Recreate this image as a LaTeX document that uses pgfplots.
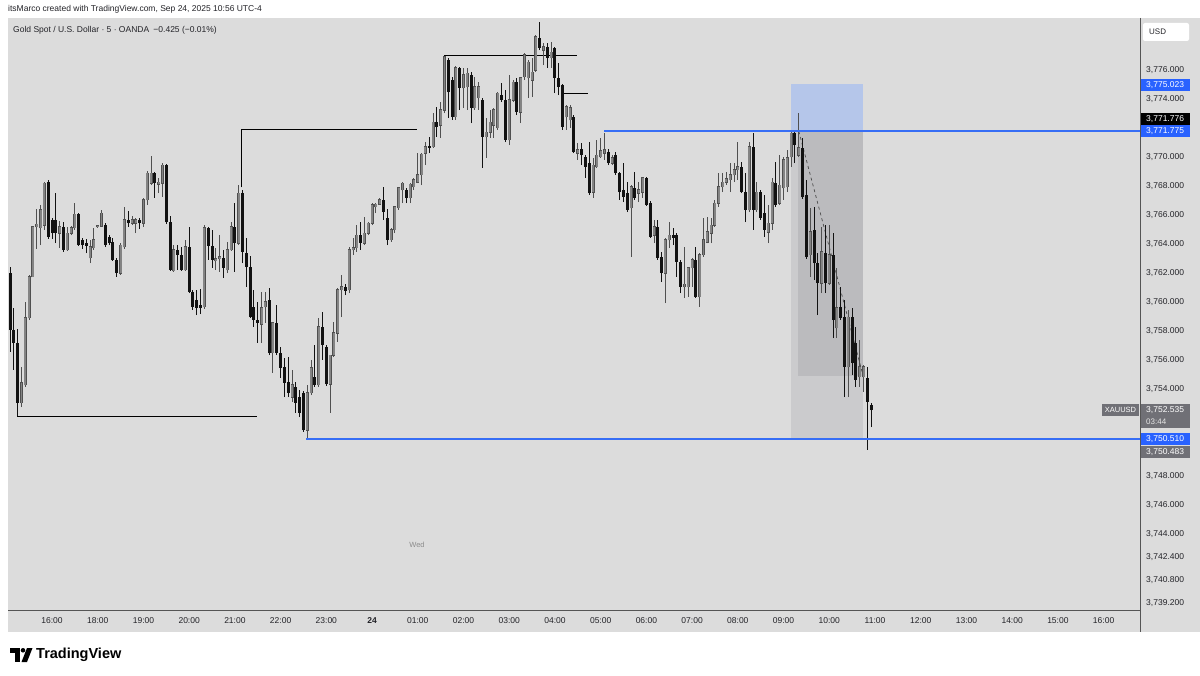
\documentclass[border=0pt]{standalone}
\usepackage{pgfplots}
\pgfplotsset{compat=1.18}
\usepackage{pgfplotstable}
\usepackage{fontspec}
\setmainfont{Liberation Sans}
\definecolor{bg}{RGB}{220,220,220}
\definecolor{upc}{RGB}{132,132,132}
\definecolor{upedge}{RGB}{80,80,80}
\definecolor{dnc}{RGB}{18,18,18}
\definecolor{tvblue}{RGB}{41,98,255}
\definecolor{lineblue}{RGB}{55,110,245}
\definecolor{boxblue}{RGB}{181,198,234}
\definecolor{boxgray}{RGB}{203,203,205}
\definecolor{boxdark}{RGB}{187,187,190}
\definecolor{taggray}{RGB}{112,112,118}
\definecolor{txt}{RGB}{35,35,40}
\definecolor{sepc}{RGB}{85,85,85}

\pgfplotstableread{
i O H L C
-11 3761.99 3762.41 3756.54 3758.06
-10 3758.06 3759.58 3755.30 3757.16
-9 3757.16 3758.13 3752.12 3753.02
-8 3753.02 3755.51 3752.74 3754.40
-7 3754.27 3759.99 3754.13 3758.89
-6 3758.89 3761.86 3758.75 3761.72
-5 3761.72 3765.23 3761.72 3765.17
-4 3765.17 3766.41 3763.65 3765.37
-3 3765.10 3766.69 3763.92 3766.34
-2 3765.30 3768.27 3764.96 3768.20
-1 3768.27 3768.41 3764.34 3764.48
0 3765.65 3765.79 3764.34 3764.75
1 3765.65 3767.51 3764.06 3764.75
2 3764.75 3765.58 3763.72 3765.17
3 3765.17 3765.51 3763.44 3763.58
4 3763.58 3765.17 3763.51 3764.75
5 3764.75 3765.23 3764.61 3765.10
6 3765.10 3766.82 3764.96 3766.06
7 3766.06 3766.13 3763.86 3763.92
8 3764.27 3764.41 3763.65 3763.92
9 3764.06 3764.34 3763.37 3763.86
10 3763.03 3764.27 3762.68 3763.79
11 3763.72 3765.10 3763.58 3764.27
12 3765.17 3765.30 3765.10 3765.23
13 3765.23 3766.34 3765.17 3766.13
14 3765.30 3765.44 3763.79 3763.92
15 3764.48 3764.61 3763.92 3764.06
16 3764.13 3764.41 3762.82 3762.89
17 3762.89 3763.03 3761.72 3761.99
18 3761.99 3764.06 3761.86 3763.92
19 3763.79 3766.55 3763.65 3765.65
20 3765.65 3766.27 3765.17 3765.44
21 3765.44 3765.93 3765.30 3765.65
22 3765.44 3765.79 3764.75 3765.65
23 3765.65 3765.79 3765.03 3765.44
24 3765.44 3767.17 3765.17 3767.03
25 3767.03 3769.03 3766.69 3768.89
26 3768.20 3770.07 3768.06 3768.89
27 3768.89 3768.96 3767.17 3768.20
28 3768.13 3768.55 3767.51 3768.27
29 3768.20 3769.58 3767.24 3769.44
30 3769.44 3769.51 3765.37 3765.51
31 3765.51 3765.93 3762.13 3762.20
32 3762.13 3763.92 3762.06 3763.58
33 3763.58 3763.92 3762.20 3763.24
34 3763.24 3763.79 3762.13 3762.20
35 3762.20 3764.27 3762.13 3763.79
36 3763.79 3765.17 3760.61 3760.68
37 3760.68 3760.82 3759.44 3759.65
38 3760.13 3760.82 3759.09 3759.58
39 3759.79 3760.89 3759.16 3759.58
40 3759.65 3765.30 3759.51 3765.10
41 3765.10 3765.17 3762.89 3763.86
42 3763.86 3764.96 3762.34 3762.89
43 3762.82 3763.72 3762.20 3762.96
44 3762.96 3764.61 3762.06 3763.10
45 3763.03 3763.58 3761.65 3762.34
46 3762.20 3764.13 3761.99 3763.58
47 3763.58 3765.51 3763.51 3765.17
48 3765.17 3766.82 3762.06 3764.06
49 3764.06 3768.06 3763.92 3767.51
50 3767.51 3767.72 3762.68 3763.44
51 3763.37 3764.41 3761.03 3762.41
52 3762.41 3763.17 3758.89 3758.95
53 3759.65 3760.82 3758.27 3758.75
54 3758.75 3759.99 3757.16 3758.54
55 3758.47 3760.68 3757.16 3759.58
56 3759.65 3760.68 3758.54 3759.99
57 3760.13 3760.96 3756.33 3756.47
58 3756.47 3758.54 3755.09 3758.54
59 3758.54 3759.79 3756.33 3756.47
60 3756.47 3756.89 3754.75 3755.44
61 3755.51 3756.13 3753.43 3754.40
62 3754.47 3756.19 3753.43 3753.71
63 3753.43 3755.30 3753.09 3754.27
64 3754.13 3754.47 3752.33 3753.02
65 3753.43 3753.92 3752.05 3752.33
66 3753.71 3753.85 3751.02 3751.15
67 3751.15 3754.27 3750.53 3753.71
68 3753.71 3755.99 3753.57 3755.44
69 3754.82 3757.02 3754.13 3754.27
70 3754.27 3758.89 3754.13 3758.27
71 3758.27 3759.30 3755.99 3757.02
72 3756.89 3757.02 3754.20 3754.33
73 3754.33 3756.33 3752.33 3756.33
74 3756.33 3758.61 3756.19 3757.85
75 3757.85 3760.96 3757.23 3760.82
76 3760.82 3761.86 3758.95 3761.03
77 3761.03 3761.23 3760.47 3760.75
78 3760.82 3763.79 3760.61 3763.58
79 3763.58 3764.41 3763.24 3763.72
80 3763.72 3765.30 3763.44 3764.61
81 3764.61 3765.51 3763.58 3764.06
82 3764.06 3765.86 3763.92 3764.75
83 3764.75 3765.51 3764.61 3765.44
84 3765.44 3766.82 3765.30 3766.69
85 3766.55 3766.82 3766.13 3766.75
86 3766.75 3767.17 3766.69 3767.03
87 3767.03 3767.93 3765.65 3766.20
88 3765.79 3766.41 3763.92 3764.27
89 3764.27 3765.10 3764.13 3764.96
90 3764.96 3766.55 3764.75 3766.55
91 3766.48 3767.93 3766.34 3767.86
92 3767.72 3768.27 3766.82 3768.20
93 3767.72 3767.86 3766.82 3767.17
94 3767.17 3768.20 3766.82 3768.13
95 3767.93 3768.55 3767.72 3768.41
96 3768.27 3770.27 3768.20 3768.76
97 3768.76 3770.27 3768.06 3770.20
98 3770.27 3771.03 3769.44 3770.69
99 3770.75 3771.38 3770.27 3770.62
100 3770.69 3773.03 3770.62 3772.41
101 3772.41 3773.45 3771.38 3772.07
102 3772.20 3773.79 3771.31 3773.24
103 3773.24 3776.97 3773.03 3776.90
104 3776.69 3776.83 3772.69 3774.48
105 3775.31 3775.52 3772.55 3772.76
106 3772.76 3776.28 3772.55 3776.14
107 3776.14 3776.21 3773.24 3774.76
108 3774.76 3776.14 3773.38 3775.66
109 3774.83 3776.14 3773.24 3775.79
110 3775.66 3775.86 3772.34 3773.38
111 3773.38 3775.52 3773.24 3774.83
112 3774.07 3775.17 3773.24 3774.83
113 3773.93 3774.07 3769.24 3771.38
114 3771.38 3772.69 3769.93 3771.72
115 3771.72 3773.24 3771.31 3772.41
116 3772.20 3773.38 3771.31 3773.24
117 3772.00 3774.48 3771.86 3774.41
118 3774.27 3775.10 3773.79 3773.93
119 3773.93 3774.62 3771.03 3771.17
120 3771.17 3775.66 3770.82 3773.93
121 3773.93 3775.31 3773.79 3775.17
122 3775.17 3775.45 3772.89 3773.10
123 3773.10 3775.52 3772.34 3775.45
124 3775.52 3777.17 3775.31 3777.04
125 3775.45 3776.69 3774.07 3776.55
126 3775.31 3776.83 3774.14 3775.86
127 3776.00 3778.41 3775.86 3778.28
128 3778.21 3779.31 3777.38 3777.52
129 3777.38 3777.86 3776.34 3777.59
130 3777.59 3777.86 3776.14 3776.83
131 3776.83 3777.93 3776.14 3777.24
132 3777.52 3777.59 3774.41 3775.45
133 3775.45 3776.48 3774.27 3774.83
134 3774.97 3775.03 3771.86 3772.07
135 3772.76 3773.58 3771.86 3773.45
136 3772.55 3773.58 3772.00 3773.38
137 3772.76 3772.89 3770.27 3770.34
138 3770.27 3770.96 3769.79 3770.48
139 3770.55 3770.96 3769.44 3770.13
140 3770.00 3770.13 3768.55 3769.31
141 3769.58 3771.03 3767.38 3767.51
142 3767.58 3769.93 3767.17 3769.44
143 3769.31 3771.17 3769.24 3770.13
144 3770.00 3771.31 3769.93 3770.41
145 3770.27 3771.65 3769.79 3770.48
146 3770.34 3770.55 3769.44 3769.58
147 3769.58 3770.13 3769.44 3769.93
148 3770.13 3770.34 3768.76 3768.89
149 3768.89 3768.96 3767.03 3767.58
150 3767.72 3769.58 3766.89 3767.24
151 3767.51 3768.27 3766.20 3766.34
152 3766.48 3768.06 3763.10 3767.93
153 3767.86 3768.96 3767.03 3767.17
154 3767.51 3768.27 3766.89 3767.72
155 3767.58 3768.62 3767.17 3768.55
156 3768.55 3768.62 3766.62 3766.69
157 3766.82 3766.96 3764.41 3764.48
158 3764.61 3765.65 3764.06 3765.17
159 3765.17 3765.65 3762.89 3763.03
160 3763.10 3763.44 3761.37 3761.99
161 3761.99 3764.41 3759.92 3764.27
162 3764.27 3765.51 3763.72 3764.61
163 3764.61 3765.10 3763.92 3764.41
164 3764.61 3764.75 3761.72 3762.75
165 3762.75 3762.89 3760.61 3761.03
166 3761.03 3763.79 3760.27 3761.23
167 3761.03 3762.41 3760.34 3762.34
168 3762.34 3763.03 3761.03 3762.89
169 3762.89 3763.79 3760.27 3760.34
170 3760.34 3763.37 3759.65 3763.24
171 3763.24 3765.79 3763.10 3764.27
172 3764.13 3765.86 3764.06 3764.82
173 3764.75 3765.79 3764.06 3765.30
174 3765.30 3767.03 3765.17 3766.82
175 3766.82 3768.89 3766.55 3767.93
176 3767.93 3768.89 3767.58 3768.27
177 3768.27 3768.96 3768.06 3768.48
178 3768.41 3769.58 3767.58 3768.76
179 3768.76 3769.58 3768.27 3769.10
180 3769.10 3771.03 3768.41 3769.31
181 3769.31 3769.65 3767.51 3767.58
182 3767.58 3768.89 3765.51 3766.34
183 3766.34 3771.03 3766.20 3770.69
184 3770.69 3771.65 3764.96 3766.34
185 3766.34 3768.27 3766.20 3767.58
186 3767.58 3767.72 3765.65 3765.79
187 3766.13 3767.38 3764.48 3764.96
188 3764.82 3766.69 3764.06 3765.44
189 3765.44 3768.55 3764.96 3768.27
190 3768.20 3769.65 3766.55 3766.69
191 3766.82 3770.13 3766.69 3768.06
192 3767.86 3770.00 3767.03 3769.79
193 3767.93 3770.48 3767.58 3769.93
194 3770.00 3771.72 3769.31 3771.65
195 3771.65 3771.86 3769.58 3770.82
196 3770.13 3773.03 3770.00 3770.62
197 3770.62 3771.31 3767.10 3767.24
198 3767.38 3768.41 3762.96 3763.10
199 3763.24 3766.48 3761.72 3764.82
200 3764.96 3766.55 3761.51 3762.68
201 3762.68 3763.37 3759.09 3761.30
202 3761.30 3765.17 3760.61 3763.44
203 3763.37 3765.30 3760.61 3761.30
204 3761.30 3765.30 3761.17 3763.24
205 3763.24 3764.75 3757.50 3758.75
206 3758.20 3762.34 3757.50 3759.58
207 3759.65 3761.03 3758.75 3758.89
208 3758.95 3760.13 3753.43 3755.51
209 3755.51 3759.44 3753.43 3758.95
210 3758.95 3759.58 3754.95 3755.78
211 3757.16 3758.27 3754.13 3754.61
212 3754.82 3757.37 3754.13 3755.51
213 3754.82 3755.65 3753.78 3755.51
214 3754.75 3755.51 3749.78 3753.09
215 3752.88 3753.02 3751.36 3752.535
}\candles

\begin{document}
\begin{tikzpicture}[x=1pt,y=1pt]
\fill[white] (0,0) rectangle (1200,-676);
\fill[bg] (8,-18) rectangle (1200,-632);
\begin{axis}[
  at={(8pt,-610pt)}, anchor=south west,
  scale only axis, width=1132pt, height=592pt,
  xmin=-11.55, xmax=285.56, ymin=3738.733, ymax=3779.589,
  axis line style={draw=none},
  major tick length=0pt,
  tick style={draw=none},
  ytick pos=right, yticklabel pos=right,
  ytick={3739.2,3740.8,3742.4,3744,3746,3748,3754,3756,3758,3760,3762,3764,3766,3768,3770,3774,3776},
  yticklabel={\pgfmathprintnumber[fixed,fixed zerofill,precision=3,1000 sep={,}]{\tick}},
  yticklabel style={anchor=west, inner sep=0pt, xshift=6pt, text=txt, font=\fontsize{8.5}{10}\selectfont},
  /pgf/number format/assume math mode=true,
  xtick={0,12,24,36,48,60,72,84,96,108,120,132,144,156,168,180,192,204,216,228,240,252,264,276},
  xticklabels={16:00,18:00,19:00,20:00,21:00,22:00,23:00,\textbf{24},01:00,02:00,03:00,04:00,05:00,06:00,07:00,08:00,09:00,10:00,11:00,12:00,13:00,14:00,15:00,16:00},
  xticklabel style={anchor=center, inner sep=0pt, yshift=-11pt, text=txt, font=\fontsize{8.5}{10}\selectfont},
  candle/.style={draw=none, mark=none, forget plot},
]
% position tool boxes
\addplot[fill=boxblue, draw=none, forget plot] coordinates {(193.96,3771.775) (212.9,3771.775) (212.9,3775.023) (193.96,3775.023)} -- cycle;
\addplot[fill=boxgray, draw=none, forget plot] coordinates {(193.96,3750.51) (212.9,3750.51) (212.9,3771.775) (193.96,3771.775)} -- cycle;
\addplot[fill=boxdark, draw=none, forget plot] coordinates {(195.8,3754.88) (212.9,3754.88) (212.9,3771.775) (195.8,3771.775)} -- cycle;
% structure lines
\addplot[black, line width=0.9pt, mark=none, forget plot] coordinates {(-9.2,3753.0) (-9.2,3752.12) (53.8,3752.12)};
\addplot[black, line width=0.9pt, mark=none, forget plot] coordinates {(49.8,3767.9) (49.8,3771.88) (95.8,3771.88)};
\addplot[black, line width=0.9pt, mark=none, forget plot] coordinates {(103,3776.97) (137.8,3776.97)};
\addplot[black, line width=0.9pt, mark=none, forget plot] coordinates {(134.1,3774.41) (140.7,3774.41)};
% dashed trade line
\addplot[black!70, dashed, line width=0.7pt, mark=none, forget plot] coordinates {(196,3771.775) (212.9,3754.88)};
% wicks up
\addplot[candle,
  restrict expr to domain={\thisrow{C}-\thisrow{O}}{0:100},
  error bars/.cd, y dir=plus, y explicit, error mark=none,
  error bar style={draw=upedge, solid, line width=1pt}]
  table[x=i, y=L, y error plus expr={\thisrow{H}-\thisrow{L}}] {\candles};
% wicks down
\addplot[candle,
  restrict expr to domain={\thisrow{C}-\thisrow{O}}{-100:0},
  error bars/.cd, y dir=plus, y explicit, error mark=none,
  error bar style={draw=dnc, solid, line width=1pt}]
  table[x=i, y=L, y error plus expr={\thisrow{H}-\thisrow{L}}] {\candles};
% up bodies edge
\addplot[candle,
  restrict expr to domain={\thisrow{C}-\thisrow{O}}{0:100},
  error bars/.cd, y dir=plus, y explicit, error mark=none,
  error bar style={draw=upedge, solid, line width=3pt}]
  table[x=i, y expr={\thisrow{O}-0.035}, y error plus expr={max(\thisrow{C}-\thisrow{O},0.07)+0.07}] {\candles};
% up bodies fill
\addplot[candle,
  restrict expr to domain={\thisrow{C}-\thisrow{O}}{0:100},
  error bars/.cd, y dir=plus, y explicit, error mark=none,
  error bar style={draw=upc, solid, line width=1.9pt}]
  table[x=i, y=O, y error plus expr={max(\thisrow{C}-\thisrow{O},0.07)}] {\candles};
% down bodies
\addplot[candle,
  restrict expr to domain={\thisrow{C}-\thisrow{O}}{-100:0},
  error bars/.cd, y dir=plus, y explicit, error mark=none,
  error bar style={draw=dnc, solid, line width=3pt}]
  table[x=i, y=C, y error plus expr={max(\thisrow{O}-\thisrow{C},0.07)}] {\candles};
% blue horizontal levels
\draw[lineblue, line width=1.8pt] (axis cs:144.9,3771.775) -- (axis cs:285.56,3771.775);
\draw[lineblue, line width=1.8pt] (axis cs:66.7,3750.51) -- (axis cs:285.56,3750.51);
\end{axis}
% separators
\draw[sepc, line width=1.2pt] (1140.5,-18) -- (1140.5,-632);
\draw[sepc, line width=1.2pt] (8,-610.5) -- (1140.5,-610.5);
% header texts
\node[anchor=west, inner sep=0pt, text=txt, font=\fontsize{8.5}{10}\selectfont] at (8,-9) {itsMarco created with TradingView.com, Sep 24, 2025 10:56 UTC-4};
\node[anchor=west, inner sep=0pt, text=txt, font=\fontsize{8.5}{10}\selectfont] at (13,-30) {Gold Spot / U.S. Dollar · 5 · OANDA\enspace −0.425 (−0.01\%)};
\node[anchor=center, inner sep=0pt, text=black!45, font=\fontsize{7.5}{9}\selectfont] at (417,-545) {Wed};
% USD box
\fill[white, rounded corners=2pt] (1143,-23) rectangle (1189,-41);
\node[anchor=west, inner sep=0pt, text=txt, font=\fontsize{8}{9}\selectfont] at (1149,-32) {USD};
% price tags
\fill[tvblue] (1141,-79) rectangle (1190,-91);
\node[anchor=west, inner sep=0pt, text=white, font=\fontsize{8.5}{10}\selectfont] at (1146,-85) {3,775.023};
\fill[black] (1141,-113) rectangle (1190,-125);
\node[anchor=west, inner sep=0pt, text=white, font=\fontsize{8.5}{10}\selectfont] at (1146,-119) {3,771.776};
\fill[tvblue] (1141,-125.5) rectangle (1190,-137.5);
\node[anchor=west, inner sep=0pt, text=white, font=\fontsize{8.5}{10}\selectfont] at (1146,-131.5) {3,771.775};
\fill[taggray] (1141,-404) rectangle (1190,-428);
\node[anchor=west, inner sep=0pt, text=white, font=\fontsize{8.5}{10}\selectfont] at (1146,-410) {3,752.535};
\node[anchor=west, inner sep=0pt, text=white!80!gray, font=\fontsize{8}{9}\selectfont] at (1146,-421.5) {03:44};
\fill[taggray] (1102,-404) rectangle (1139,-416);
\node[anchor=center, inner sep=0pt, text=white, font=\fontsize{7.5}{9}\selectfont] at (1120.5,-410) {XAUUSD};
\fill[tvblue] (1141,-433) rectangle (1190,-445);
\node[anchor=west, inner sep=0pt, text=white, font=\fontsize{8.5}{10}\selectfont] at (1146,-439) {3,750.510};
\fill[taggray] (1141,-446) rectangle (1190,-458);
\node[anchor=west, inner sep=0pt, text=white, font=\fontsize{8.5}{10}\selectfont] at (1146,-452) {3,750.483};
% TradingView logo
\fill[black] (10,-648) rectangle (19.5,-652.5);
\fill[black] (15,-652.5) rectangle (19.5,-662);
\fill[black] (23,-650.3) circle (2.3);
\fill[black] (27,-648) -- (32.5,-648) -- (27,-662) -- (21.5,-662) -- cycle;
\node[anchor=west, inner sep=0pt, text=black, font=\fontsize{14.5}{16}\selectfont\bfseries] at (36,-655) {TradingView};
\end{tikzpicture}
\end{document}
